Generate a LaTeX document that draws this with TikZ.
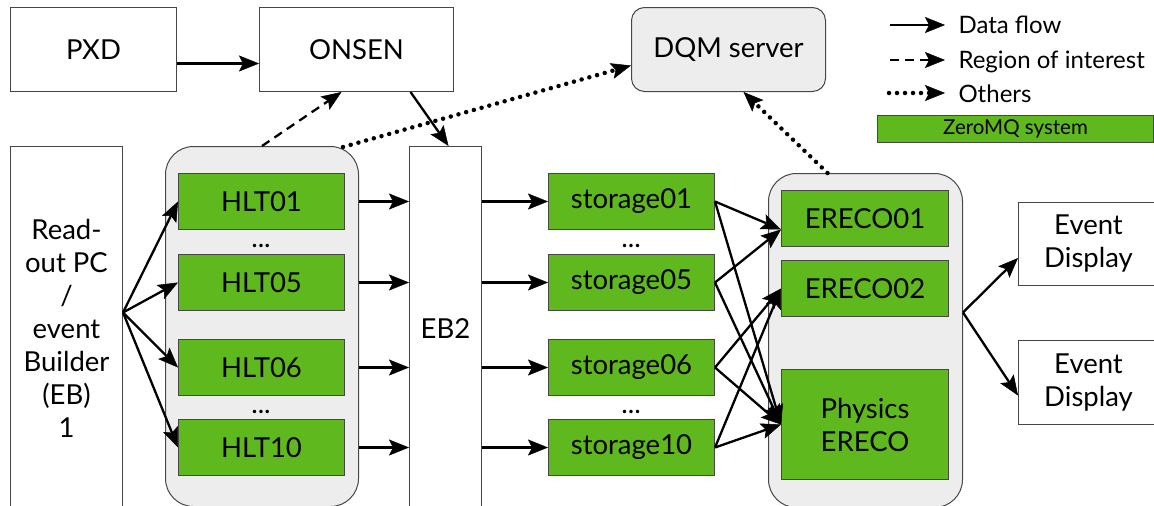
\documentclass[tikz,border=0pt]{standalone}
\usepackage{fontspec}
\setmainfont{Lato}
\usetikzlibrary{arrows.meta}
\definecolor{zgreen}{RGB}{94,184,30}
\definecolor{contfill}{RGB}{237,237,237}
\definecolor{edge}{RGB}{70,70,70}
\begin{document}
\begin{tikzpicture}[x=1pt,y=-1pt,
  txt/.style={font=\fontsize{27.5}{33}\selectfont},
  wbox/.style={draw=edge,line width=1pt,fill=white,anchor=north west,inner sep=0pt,align=center,txt},
  gbox/.style={wbox,fill=zgreen},
  cbox/.style={draw=edge,line width=1pt,fill=contfill,anchor=north west,inner sep=0pt,rounded corners=28pt},
  flow/.style={-{Stealth[length=20pt,width=16pt,inset=4pt,line width=0.5pt]},line width=2.3pt},
  roi/.style={flow,dash pattern=on 9pt off 6pt},
  other/.style={flow,line width=4.5pt,line cap=round,dash pattern=on 0pt off 8pt},
  dotsl/.style={anchor=base,txt},
  legtxt/.style={anchor=base west,font=\fontsize{24}{28}\selectfont},
]
\useasboundingbox (0,0) rectangle (1154,506);

% top row
\node[wbox,minimum width=166pt,minimum height=84pt] (pxd) at (10,7) {PXD};
\node[wbox,minimum width=194pt,minimum height=84pt] (onsen) at (259,7) {ONSEN};
\node[cbox,rounded corners=13pt,minimum width=194pt,minimum height=84pt,txt] (dqm) at (631,7) {DQM server};

% left column
\node[wbox,minimum width=112pt,minimum height=364pt] (readout) at (10,146) {Read-\\out PC\\/\\event\\Builder\\(EB)\\1};

% HLT container
\node[cbox,minimum width=193pt,minimum height=360pt] (hltc) at (165,146) {};
\node[gbox,minimum width=166pt,minimum height=56pt] (hlt01) at (178,173) {HLT01};
\node[gbox,minimum width=166pt,minimum height=56pt] (hlt05) at (178,254) {HLT05};
\node[gbox,minimum width=166pt,minimum height=56pt] (hlt06) at (178,339) {HLT06};
\node[gbox,minimum width=166pt,minimum height=56pt] (hlt10) at (178,419) {HLT10};
\node[dotsl] (hdots1) at (261,247) {...};
\node[dotsl] (hdots2) at (261,413) {...};

% EB2
\node[wbox,minimum width=72pt,minimum height=364pt] (eb2) at (409,146) {EB2};

% storage
\node[gbox,minimum width=166pt,minimum height=56pt] (st01) at (548,173) {storage01};
\node[gbox,minimum width=166pt,minimum height=56pt] (st05) at (548,254) {storage05};
\node[gbox,minimum width=166pt,minimum height=56pt] (st06) at (548,339) {storage06};
\node[gbox,minimum width=166pt,minimum height=56pt] (st10) at (548,419) {storage10};
\node[dotsl] (sdots1) at (631,247) {...};
\node[dotsl] (sdots2) at (631,413) {...};

% ERECO container
\node[cbox,minimum width=194pt,minimum height=334pt] (erc) at (768,173) {};
\node[gbox,minimum width=167pt,minimum height=56pt] (er01) at (781,190) {ERECO01};
\node[gbox,minimum width=167pt,minimum height=56pt] (er02) at (781,260) {ERECO02};
\node[gbox,minimum width=167pt,minimum height=110pt] (phys) at (781,369) {Physics\\ERECO};

% event displays
\node[wbox,minimum width=140pt,minimum height=83pt] (ev1) at (1018,202) {Event\\Display};
\node[wbox,minimum width=140pt,minimum height=84pt] (ev2) at (1018,340) {Event\\Display};

% legend
\coordinate (l1s) at (890,25); \coordinate (l1e) at (945,25);
\coordinate (l2s) at (890,60); \coordinate (l2e) at (945,60);
\coordinate (l3s) at (889,93); \coordinate (l3e) at (945,93);
\draw[flow] (l1s) -- (l1e);
\draw[roi] (l2s) -- (l2e);
\draw[other] (l3s) -- (l3e);
\node[legtxt] (lt1) at (955,34) {Data flow};
\node[legtxt] (lt2) at (955,68) {Region of interest};
\node[legtxt] (lt3) at (955,102) {Others};
\node[gbox,minimum width=276pt,minimum height=27pt,font=\fontsize{20.5}{24}\selectfont] (zmq) at (877,115) {ZeroMQ system};

% arrows top
\draw[flow] ([yshift=-14pt]pxd.east) -- ([yshift=-14pt]onsen.west);
\draw[flow] ([xshift=54pt]onsen.south) -- ([xshift=3pt]eb2.north);
\draw[roi] (hltc.north) -- ([xshift=-15pt]onsen.south);
\draw[other] ([xshift=-16pt,yshift=-1pt]hltc.north east) -- ([yshift=-16pt]dqm.west);
\draw[other] ([xshift=-38pt]erc.north) -- ([xshift=15pt]dqm.south);

% readout -> HLT
\foreach \h in {hlt01,hlt05,hlt06,hlt10}
  \draw[flow] ([yshift=16pt]readout.east) -- (\h.west);

% HLT -> EB2 -> storage
\foreach \h/\s in {hlt01/st01,hlt05/st05,hlt06/st06,hlt10/st10}{
  \draw[flow] (\h.east -| hltc.east) -- (\h.east -| eb2.west);
  \draw[flow] (\s.west -| eb2.east) -- (\s.west);
}

% storage -> ERECO
\draw[flow] (st01.east) -- ([yshift=-11pt]er01.west);
\draw[flow] (st05.east) -- ([yshift=-11pt]er01.west);
\draw[flow] (st06.east) -- (er02.west);
\draw[flow] (st10.east) -- (er02.west);
\foreach \s in {st01,st05,st06,st10}
  \draw[flow] (\s.east) -- (phys.west);

% ERECO -> event displays
\draw[flow] ([yshift=28pt]erc.east) -- ([yshift=-14pt]ev1.west);
\draw[flow] ([yshift=28pt]erc.east) -- ([yshift=-13pt]ev2.west);
\end{tikzpicture}
\end{document}
